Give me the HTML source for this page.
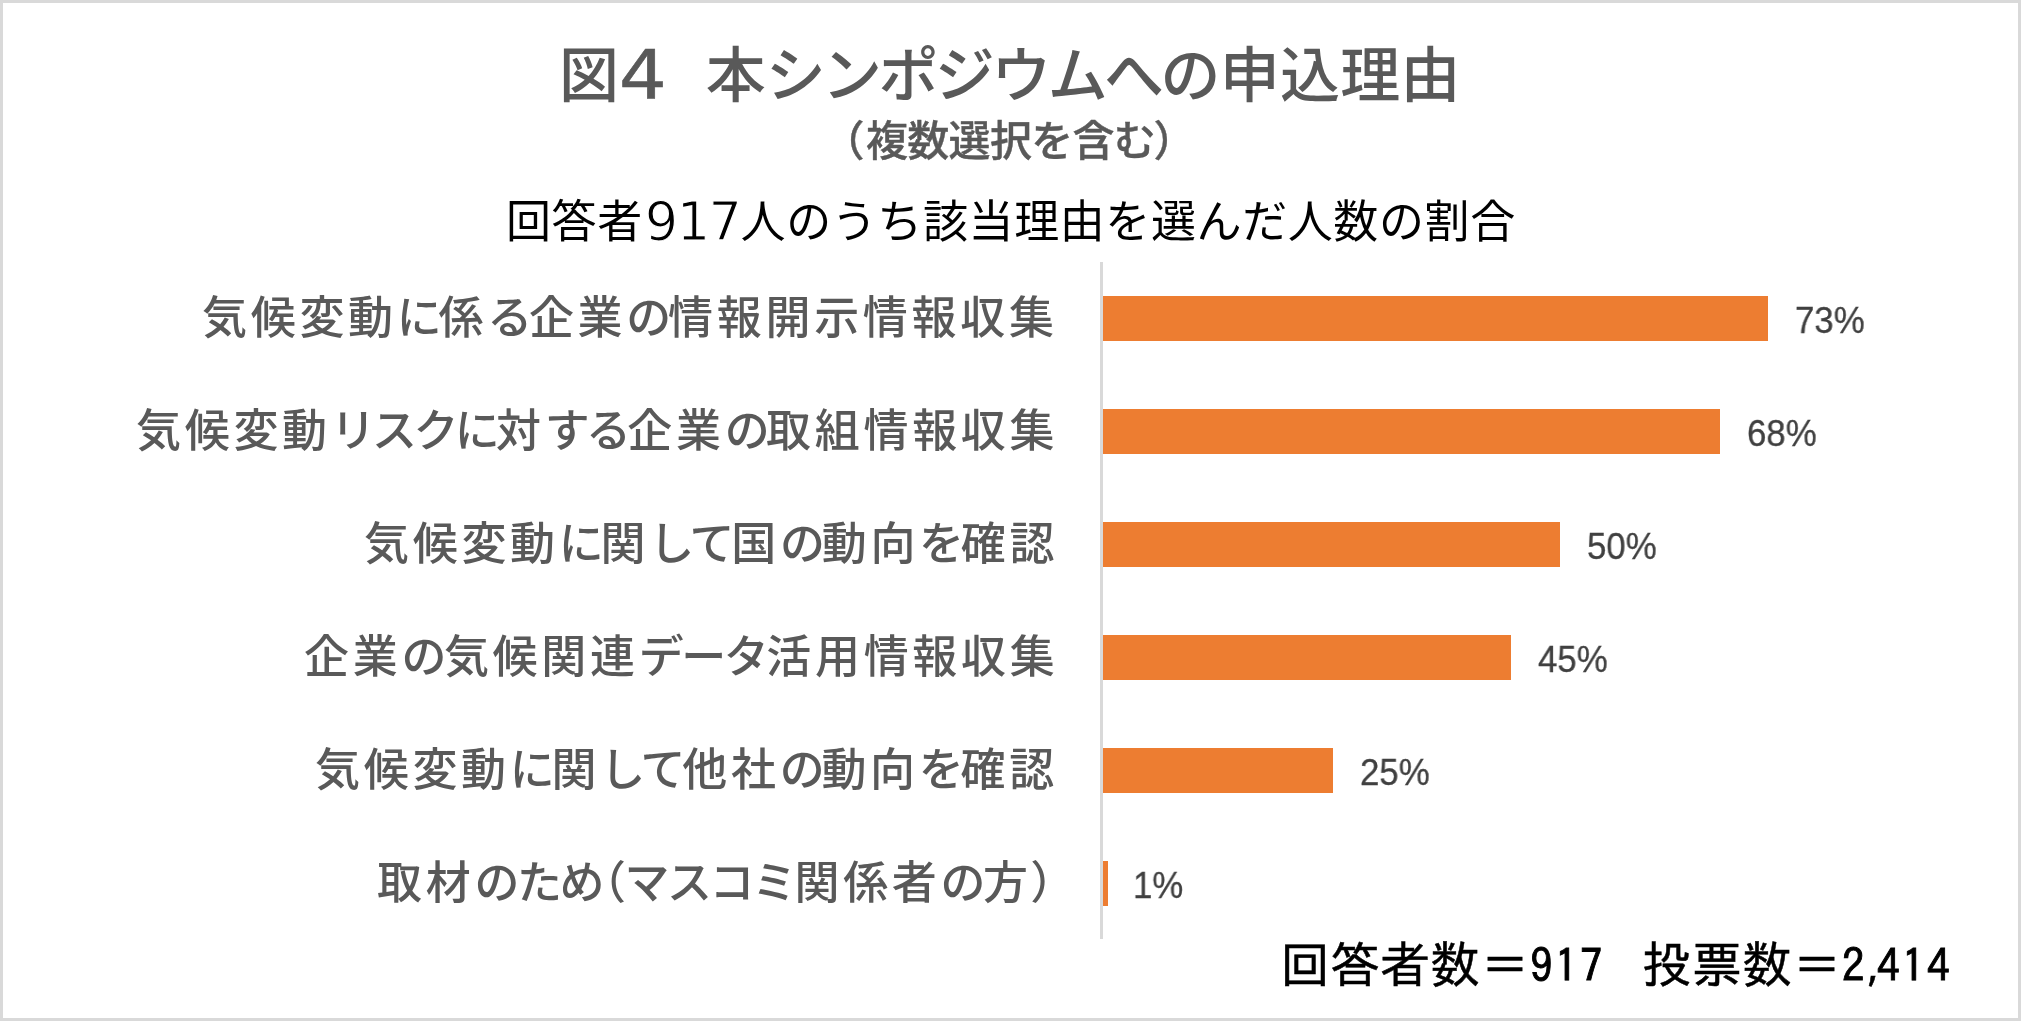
<!DOCTYPE html>
<html lang="ja">
<head>
<meta charset="utf-8">
<title>図4 本シンポジウムへの申込理由</title>
<style>
html,body{margin:0;padding:0;background:#fff;}
body{width:2021px;height:1021px;position:relative;overflow:hidden;-webkit-font-smoothing:antialiased;}
.frame{position:absolute;left:0;top:0;width:2015px;height:1015px;border:3px solid #d9d9d9;background:#fff;}
.t,.lab,.pct{position:absolute;white-space:nowrap;line-height:1;will-change:transform;}
.title{left:559px;top:41px;font-size:60px;font-weight:500;color:#595959;font-family:"Liberation Sans","Noto Sans CJK JP",sans-serif;}
.title .n{font-family:"Liberation Sans","Noto Sans CJK JP",sans-serif;}
.title .d4{display:inline-block;font-family:"DejaVu Sans",sans-serif;font-size:67px;font-weight:400;transform:scaleX(1.12);transform-origin:0 0;position:relative;top:2px;margin-right:4px;-webkit-text-stroke:0.6px #595959;}
.title .sp{display:inline-block;width:40px;}
.title .kn{letter-spacing:-3.6px;}
.title .kj{letter-spacing:0.2px;margin-left:3px;}
.sub{left:842px;top:121px;font-size:42px;font-weight:500;color:#595959;-webkit-text-stroke:0.4px #595959;letter-spacing:-0.7px;font-family:"Liberation Sans","Noto Sans CJK JP",sans-serif;}
.head{left:506px;top:194px;font-size:45px;font-weight:400;color:#000;letter-spacing:0.6px;font-family:"Liberation Sans","Noto Sans CJK JP",sans-serif;}
.head .d{font-family:"DejaVu Sans",sans-serif;font-size:52.5px;letter-spacing:-1.5px;margin-left:2px;position:relative;top:2px;-webkit-text-stroke:1.2px #fff;}
.lab{right:963px;font-size:45px;letter-spacing:3.7px;font-weight:500;color:#595959;font-family:"Liberation Sans","Noto Sans CJK JP",sans-serif;}
.k{letter-spacing:-3.3px;}
.l2 .k{letter-spacing:-3.7px;}
.p{font-feature-settings:"palt";letter-spacing:0;}
.axis{position:absolute;left:1100px;top:262px;width:3px;height:677px;background:#d9d9d9;}
.bar{position:absolute;left:1103px;height:45px;background:#ed7d31;}
.pct{font-size:37px;letter-spacing:0;transform:scaleX(0.94);transform-origin:0 0;color:#404040;-webkit-text-stroke:0.3px #404040;font-family:"Liberation Sans",sans-serif;}
.foot{top:938.5px;font-size:50px;color:#000;font-family:"IPAGothic","Liberation Sans",sans-serif;-webkit-text-stroke:0.5px #000;}
.foot .fd{position:relative;top:-1px;font-size:45px;letter-spacing:2.5px;-webkit-text-stroke:0.9px #000;}
.foot .cm{letter-spacing:-8px;font-size:36px;-webkit-text-stroke:0.6px #000;}
</style>
</head>
<body>
<div class="frame"></div>

<div class="t title"><span class="n">図</span><span class="d4">4</span><span class="sp"></span><span class="n">本<span class="kn">シンポジウムへの</span><span class="kj">申込理由</span></span></div>
<div class="t sub"><span class="p" style="letter-spacing:3px">（</span>複数選択を含む<span class="p">）</span></div>
<div class="t head">回答者<span class="d">917</span>人のうち該当理由を選んだ人数の割合</div>

<div class="axis"></div>

<div class="lab" style="top:296px">気候変動<span class="k">に</span>係<span class="k">る</span>企業<span class="k">の</span>情報開示情報収集</div>
<div class="lab l2" style="top:409px">気候変動<span class="k">リスクに</span>対<span class="k">する</span>企業<span class="k">の</span>取組情報収集</div>
<div class="lab" style="top:522px">気候変動<span class="k">に</span>関<span class="k">して</span>国<span class="k">の</span>動向<span class="k">を</span>確認</div>
<div class="lab" style="top:635px">企業<span class="k" style="letter-spacing:-2.5px">の</span>気候関連<span class="k" style="letter-spacing:-2.5px">データ</span>活用情報収集</div>
<div class="lab" style="top:748px">気候変動<span class="k">に</span>関<span class="k">して</span>他社<span class="k">の</span>動向<span class="k">を</span>確認</div>
<div class="lab" style="top:861px;right:966.5px">取材<span class="k" style="letter-spacing:-2.5px">のため</span><span class="p">（</span><span class="k" style="letter-spacing:-2.5px">マスコミ</span>関係者<span class="k" style="letter-spacing:-2.5px">の</span>方<span class="p">）</span></div>

<div class="bar" style="top:296px;width:665px"></div>
<div class="bar" style="top:409px;width:617px"></div>
<div class="bar" style="top:522px;width:457px"></div>
<div class="bar" style="top:635px;width:408px"></div>
<div class="bar" style="top:748px;width:230px"></div>
<div class="bar" style="top:861px;width:5px"></div>

<div class="pct" style="left:1795px;top:302px">73%</div>
<div class="pct" style="left:1747px;top:415px">68%</div>
<div class="pct" style="left:1587px;top:528px">50%</div>
<div class="pct" style="left:1538px;top:641px">45%</div>
<div class="pct" style="left:1360px;top:754px">25%</div>
<div class="pct" style="left:1133px;top:867px">1%</div>

<div class="t foot" style="left:1280px">回答者数＝<span class="fd">917</span></div>
<div class="t foot" style="left:1642px">投票数＝<span class="fd">2<span class="cm">,</span>414</span></div>
</body>
</html>
